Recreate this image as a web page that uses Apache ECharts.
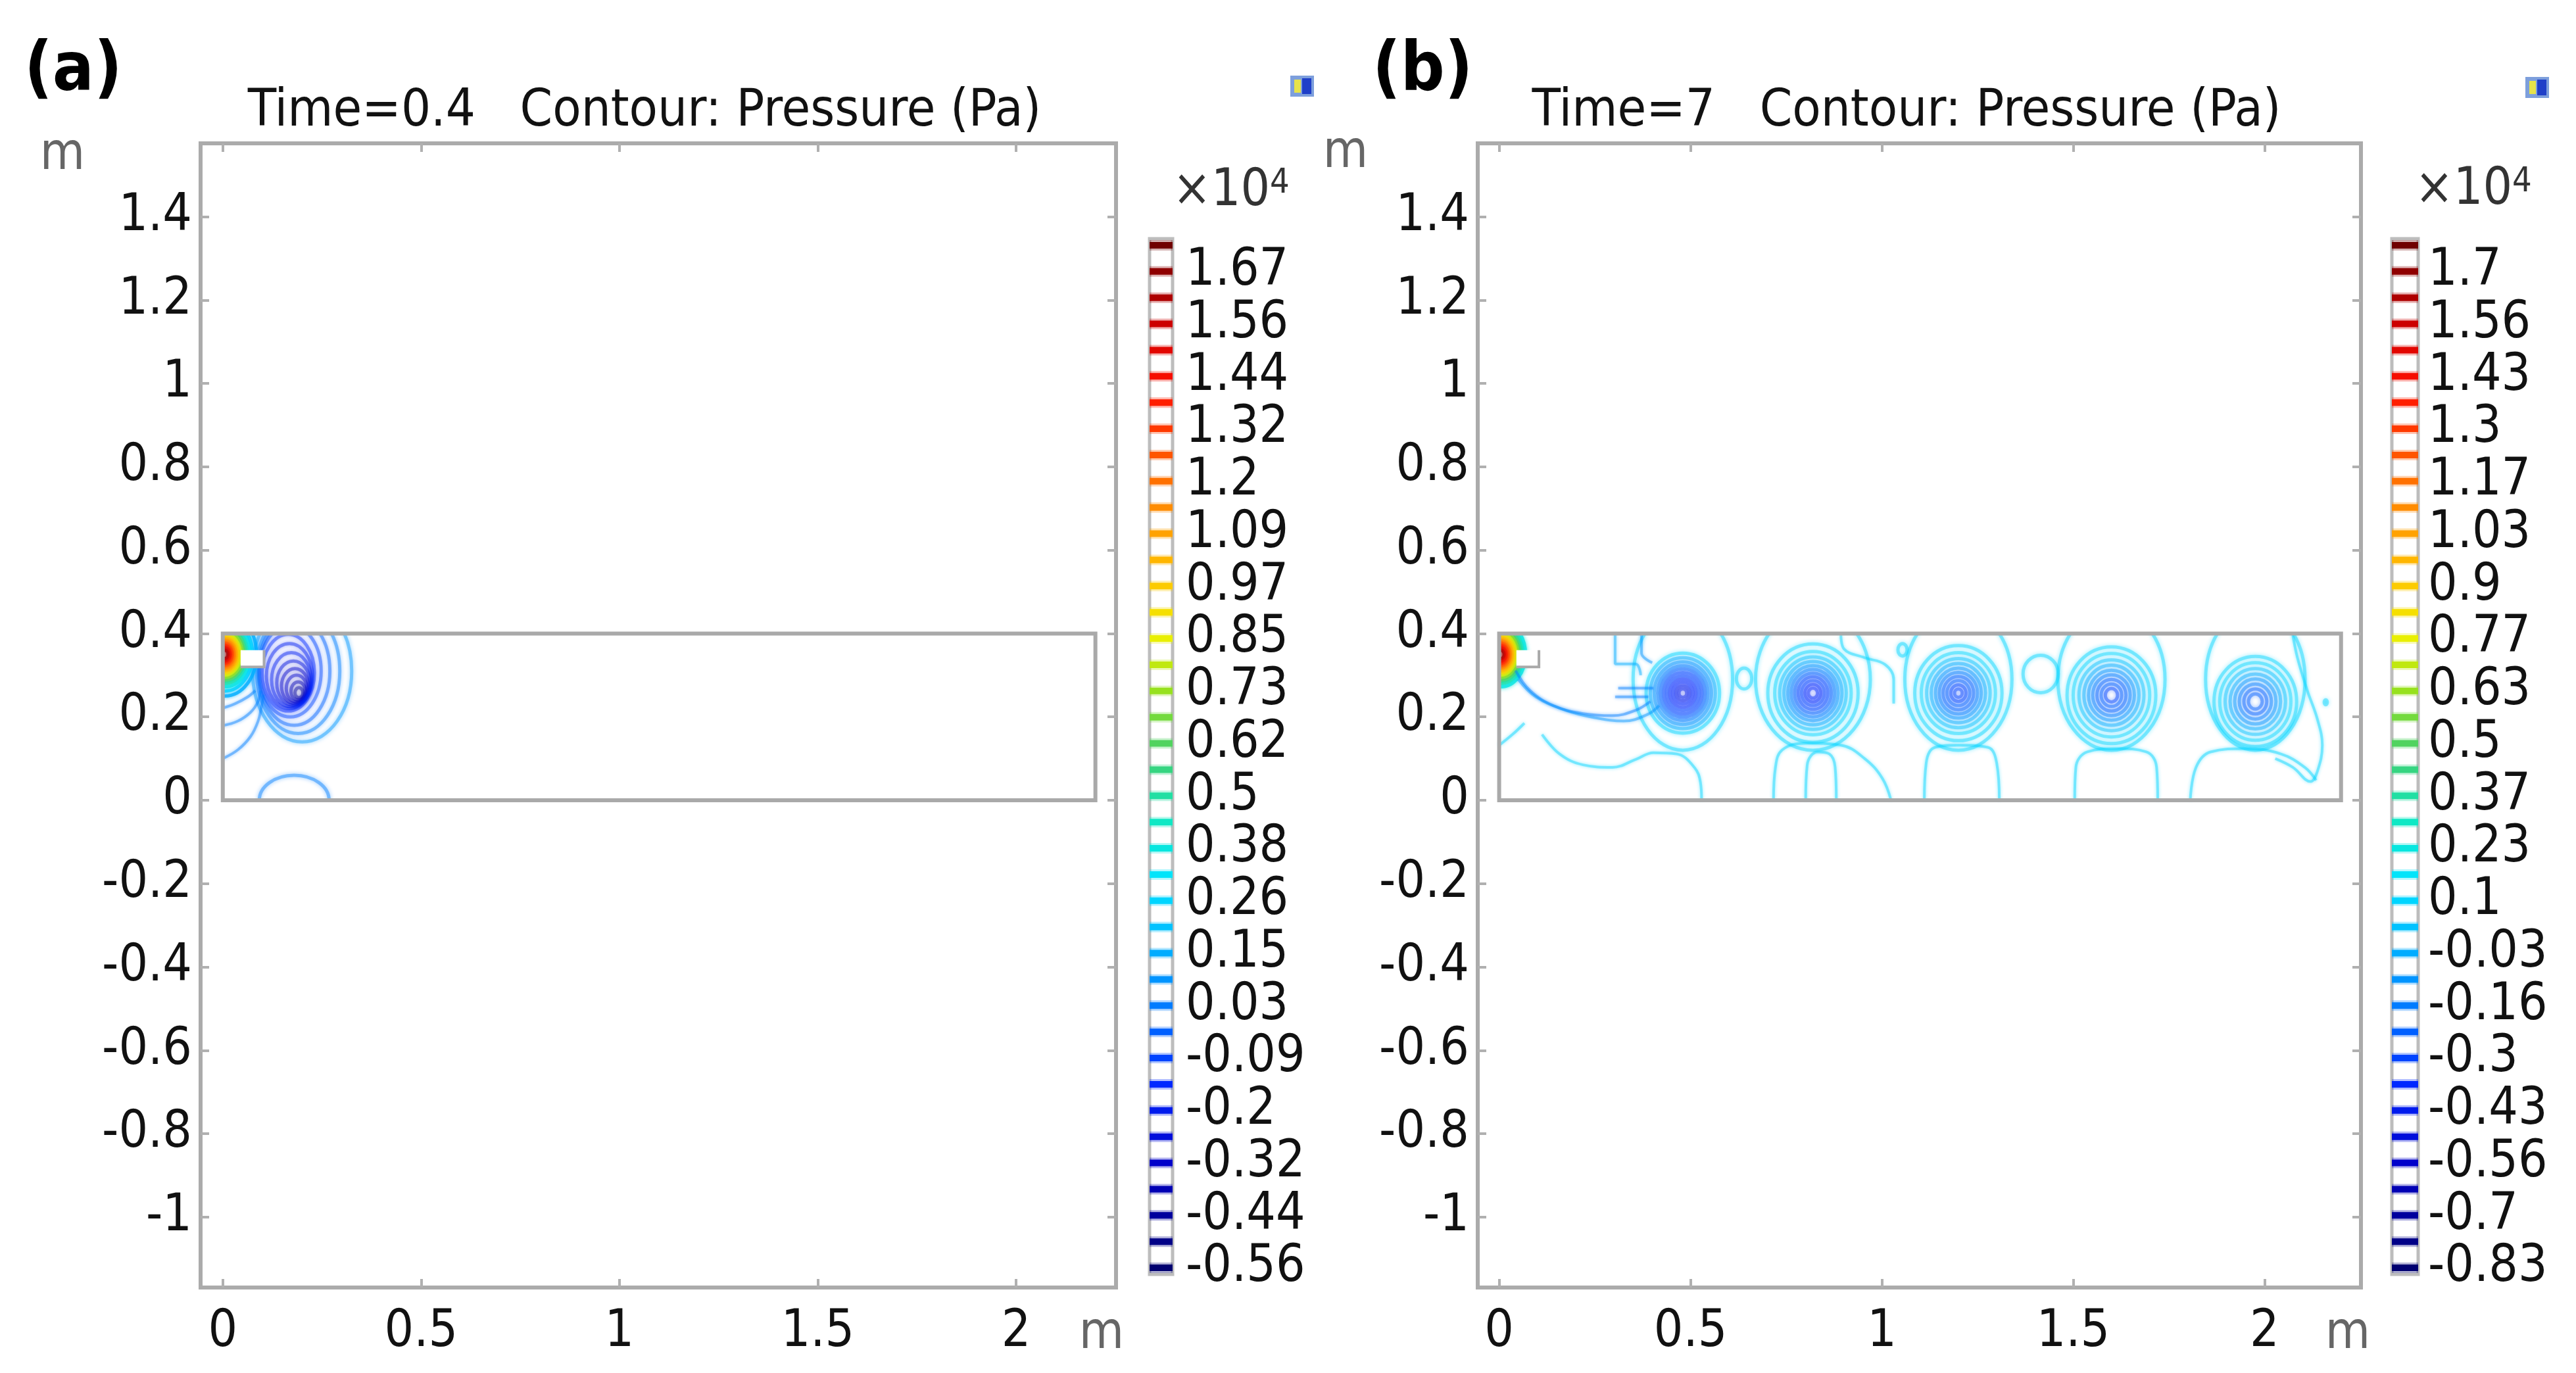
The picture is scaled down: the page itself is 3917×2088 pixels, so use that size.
<!DOCTYPE html>
<html>
<head>
<meta charset="utf-8">
<script src="https://cdn.jsdelivr.net/npm/echarts@6/dist/echarts.min.js"></script>
<style>
html, body { margin: 0; padding: 0; background: #fff; }
#chart { width: 3917px; height: 2088px; }
</style>
</head>
<body>
<div id="chart"></div>
<script>
// axes and geometry
const xTicks = [0, 0.5, 1, 1.5, 2]
const yTicks = [-1, -0.8, -0.6, -0.4, -0.2, 0, 0.2, 0.4, 0.6, 0.8, 1, 1.2, 1.4]
const channelX = [0, 2.2]
const channelY = [0, 0.4]
const inletStep = [[0.045, 0.32], [0.104, 0.32], [0.104, 0.36]]

// colour legend labels (x10^4 Pa), top to bottom
const aColorLabels = [1.67, 1.56, 1.44, 1.32, 1.2, 1.09, 0.97, 0.85, 0.73, 0.62, 0.5, 0.38, 0.26, 0.15, 0.03, -0.09, -0.2, -0.32, -0.44, -0.56]
const bColorLabels = [1.7, 1.56, 1.43, 1.3, 1.17, 1.03, 0.9, 0.77, 0.63, 0.5, 0.37, 0.23, 0.1, -0.03, -0.16, -0.3, -0.43, -0.56, -0.7, -0.83]

// (a) Time=0.4 : vortex rings [centre, radii, level]
const aRingX = [0.192, 0.19, 0.186, 0.182, 0.178, 0.173, 0.168, 0.165, 0.17, 0.18, 0.19, 0.2, 0.18]
const aRingY = [0.258, 0.262, 0.268, 0.274, 0.281, 0.289, 0.298, 0.306, 0.31, 0.31, 0.31, 0.31, 0]
const aRingRX = [0.01, 0.018, 0.026, 0.034, 0.042, 0.05, 0.058, 0.066, 0.078, 0.09, 0.105, 0.125, 0.088]
const aRingRY = [0.012, 0.022, 0.032, 0.042, 0.053, 0.065, 0.078, 0.092, 0.11, 0.13, 0.15, 0.17, 0.06]
const aRingP = [-0.44, -0.38, -0.32, -0.32, -0.26, -0.2, -0.2, -0.15, -0.09, -0.03, 0.03, 0.09, 0.03]
// (a) inlet jet fan
const aFanCenter = [0.005, 0.35]
const aFanRX = [0.008, 0.013, 0.018, 0.023, 0.028, 0.033, 0.038, 0.043, 0.048, 0.053, 0.058, 0.064, 0.07, 0.08]
const aFanRY = [0.01, 0.016, 0.022, 0.028, 0.034, 0.04, 0.046, 0.052, 0.058, 0.064, 0.07, 0.078, 0.088, 0.1]
const aFanP = [1.67, 1.56, 1.44, 1.32, 1.2, 1.09, 0.97, 0.85, 0.73, 0.62, 0.5, 0.38, 0.26, 0.15]
// (a) open contour lines
const aPaths = [
  [[0, 0.221], [0.032, 0.232], [0.063, 0.248], [0.082, 0.263]],
  [[0, 0.179], [0.038, 0.19], [0.07, 0.211], [0.089, 0.237], [0.095, 0.263]],
  [[0, 0.1], [0.038, 0.121], [0.07, 0.153], [0.089, 0.19], [0.098, 0.227], [0.102, 0.253]]
]
const aPathP = [0.03, 0.03, 0.03]

// (b) Time=7 : five vortices
const bVortexX = [0.48, 0.82, 1.2, 1.6, 1.976]
const bVortexY = [0.257, 0.257, 0.257, 0.252, 0.237]
const bVortexR = [
  [0.01, 0.018, 0.026, 0.034, 0.042, 0.05, 0.058, 0.066, 0.075, 0.085, 0.096],
  [0.012, 0.021, 0.03, 0.039, 0.048, 0.057, 0.066, 0.076, 0.087, 0.1, 0.118],
  [0.01, 0.02, 0.03, 0.04, 0.05, 0.06, 0.071, 0.083, 0.097, 0.114],
  [0.016, 0.027, 0.038, 0.049, 0.06, 0.072, 0.085, 0.1, 0.116],
  [0.018, 0.03, 0.042, 0.054, 0.066, 0.079, 0.093, 0.108]
]
const bVortexP = [
  [-0.43, -0.43, -0.37, -0.37, -0.3, -0.3, -0.23, -0.16, -0.1, -0.03, 0.1],
  [-0.37, -0.37, -0.3, -0.3, -0.23, -0.16, -0.1, -0.03, 0.03, 0.1, 0.1],
  [-0.3, -0.3, -0.23, -0.23, -0.16, -0.1, -0.03, 0.03, 0.1, 0.1],
  [-0.3, -0.23, -0.23, -0.16, -0.1, -0.03, 0.03, 0.1, 0.1],
  [-0.23, -0.23, -0.16, -0.1, -0.03, 0.03, 0.1, 0.1]
]
const bOuterY = 0.29
const bOuterRX = [0.13, 0.15, 0.14, 0.14, 0.13]
const bOuterRY = [0.17, 0.17, 0.17, 0.17, 0.17]
const bOuterP = [0.1, 0.1, 0.1, 0.1, 0.1]
// (b) small closed cells
const bCellX = [1.415, 1.054, 0.64, 2.16]
const bCellY = [0.303, 0.361, 0.292, 0.235]
const bCellRX = [0.046, 0.012, 0.02, 0.004]
const bCellRY = [0.045, 0.015, 0.025, 0.006]
const bCellP = [0.1, 0.1, 0.1, 0.1]
// (b) inlet jet fan
const bFanCenter = [0.005, 0.35]
const bFanRX = [0.008, 0.013, 0.018, 0.023, 0.028, 0.033, 0.038, 0.043, 0.048, 0.053, 0.058, 0.064]
const bFanRY = [0.01, 0.016, 0.022, 0.028, 0.034, 0.04, 0.046, 0.052, 0.058, 0.064, 0.07, 0.078]
const bFanP = [1.7, 1.56, 1.43, 1.3, 1.17, 1.03, 0.9, 0.77, 0.63, 0.5, 0.37, 0.23]
// (b) open contour lines
const bPaths = [
  [[0.043, 0.311], [0.081, 0.263], [0.142, 0.227], [0.219, 0.208], [0.296, 0.203], [0.357, 0.216], [0.395, 0.237]],
  [[0.05, 0.29], [0.096, 0.248], [0.173, 0.216], [0.25, 0.198], [0.326, 0.19], [0.388, 0.206], [0.418, 0.227]],
  [[0.311, 0.269], [0.403, 0.269]],
  [[0.303, 0.248], [0.39, 0.248]],
  [[0.303, 0.4], [0.303, 0.327], [0.357, 0.327], [0.37, 0.3]],
  [[0.372, 0.4], [0.372, 0.353], [0.4, 0.33]],
  [[0, 0.132], [0.035, 0.158], [0.066, 0.185]],
  [[0.112, 0.158], [0.158, 0.111], [0.219, 0.085], [0.296, 0.079], [0.357, 0.098], [0.403, 0.114], [0.464, 0.111], [0.51, 0.079], [0.526, 0.043], [0.529, 0]],
  [[0.893, 0.397], [0.901, 0.363], [0.955, 0.342], [1.008, 0.326], [1.031, 0.29], [1.031, 0.232]],
  [[2.074, 0.397], [2.086, 0.342], [2.112, 0.263], [2.138, 0.195], [2.151, 0.132], [2.138, 0.069], [2.12, 0.045], [2.074, 0.079], [2.028, 0.1]],
  [[0.717, 0], [0.722, 0.079], [0.74, 0.121], [0.801, 0.137], [0.893, 0.132], [0.955, 0.1], [1.001, 0.053], [1.024, 0]],
  [[0.801, 0], [0.805, 0.085], [0.832, 0.116], [0.863, 0.111], [0.878, 0.079], [0.881, 0]],
  [[1.111, 0], [1.116, 0.09], [1.139, 0.127], [1.2, 0.132], [1.277, 0.127], [1.3, 0.09], [1.307, 0]],
  [[1.504, 0], [1.507, 0.079], [1.537, 0.116], [1.614, 0.124], [1.691, 0.116], [1.718, 0.079], [1.721, 0]],
  [[1.806, 0], [1.821, 0.079], [1.859, 0.116], [1.951, 0.124], [2.043, 0.111], [2.105, 0.079], [2.135, 0.048]]
]
const bPathP = [-0.16, -0.1, -0.16, -0.16, -0.03, -0.1, 0.1, 0.1, 0.1, 0.1, 0.1, 0.1, 0.1, 0.1, 0.1]

const FONT = "'DejaVu Sans Condensed', 'DejaVu Sans', sans-serif"

// rainbow colour table (COMSOL like)
const palette = [
  [0, '#000070'], [0.1, '#0000c8'], [0.18, '#0028ff'], [0.26, '#0080ff'], [0.33, '#00c0ff'],
  [0.38, '#00e4ff'], [0.44, '#10e8c0'], [0.5, '#40d070'], [0.56, '#90e020'], [0.62, '#f0f000'],
  [0.68, '#ffc000'], [0.74, '#ff9000'], [0.8, '#ff5000'], [0.86, '#ff1000'], [0.92, '#d00000'], [1, '#700000']
]
const hexRgb = h => [1, 3, 5].map(i => parseInt(h.slice(i, i + 2), 16))
const colorAt = t => {
  t = Math.max(0, Math.min(1, t))
  for (let i = 1; i < palette.length; i++) {
    if (t <= palette[i][0]) {
      const [t0, c0] = palette[i - 1]
      const [t1, c1] = palette[i]
      const f = (t - t0) / (t1 - t0)
      const a = hexRgb(c0), b = hexRgb(c1)
      return 'rgb(' + a.map((v, k) => Math.round(v + (b[k] - v) * f)).join(',') + ')'
    }
  }
  return palette[palette.length - 1][1]
}
const rangeOf = labels => [labels[labels.length - 1], labels[0] + (labels[0] - labels[1]) / 2]
const aRange = rangeOf(aColorLabels)
const bRange = rangeOf(bColorLabels)

// build ring data
const aRings = aRingX.map((x, i) => [x, aRingY[i], aRingRX[i], aRingRY[i], aRingP[i]])
const aFan = aFanRX.map((r, i) => [aFanCenter[0], aFanCenter[1], r, aFanRY[i], aFanP[i]])
const bRings = []
bVortexX.forEach((x, k) => {
  bVortexR[k].forEach((r, i) => bRings.push([x, bVortexY[k], r, r, bVortexP[k][i]]))
  bRings.push([x, bOuterY, bOuterRX[k], bOuterRY[k], bOuterP[k]])
})
bCellX.forEach((x, i) => bRings.push([x, bCellY[i], bCellRX[i], bCellRY[i], bCellP[i]]))
const bFan = bFanRX.map((r, i) => [bFanCenter[0], bFanCenter[1], r, bFanRY[i], bFanP[i]])

const ringSeries = (ax, data, range, width, alpha) => ({
  type: 'custom',
  xAxisIndex: ax,
  yAxisIndex: ax,
  silent: true,
  z: 3,
  data: data,
  renderItem: (params, api) => {
    const c = api.coord([api.value(0), api.value(1)])
    const s = api.size([api.value(2), api.value(3)])
    const p0 = api.coord([channelX[0], channelY[0]])
    const p1 = api.coord([channelX[1], channelY[1]])
    const col = colorAt((api.value(4) - range[0]) / (range[1] - range[0]))
    return {
      type: 'ellipse',
      shape: { cx: c[0], cy: c[1], rx: s[0], ry: s[1] },
      style: { fill: 'none', stroke: col, lineWidth: width, opacity: alpha, shadowBlur: 6, shadowColor: col },
      clipPath: { type: 'rect', shape: { x: p0[0], y: p1[1], width: p1[0] - p0[0], height: p0[1] - p1[1] } }
    }
  }
})

const pathSeries = (ax, paths, levels, range) => paths.map((pts, k) => {
  const col = colorAt((levels[k] - range[0]) / (range[1] - range[0]))
  return {
    type: 'line',
    xAxisIndex: ax,
    yAxisIndex: ax,
    silent: true,
    z: 3,
    smooth: 0.4,
    showSymbol: false,
    symbol: 'none',
    data: pts,
    lineStyle: { color: col, width: 4, opacity: 0.42, shadowBlur: 5, shadowColor: col }
  }
})

const channelSeries = ax => ({
  type: 'custom',
  xAxisIndex: ax,
  yAxisIndex: ax,
  silent: true,
  z: 5,
  data: [[channelX[0], channelY[0], channelX[1], channelY[1]]],
  renderItem: (params, api) => {
    const p0 = api.coord([api.value(0), api.value(1)])
    const p1 = api.coord([api.value(2), api.value(3)])
    const s = inletStep.map(p => api.coord(p))
    return {
      type: 'group',
      children: [
        { type: 'rect', shape: { x: s[0][0], y: s[2][1], width: s[1][0] - s[0][0], height: s[0][1] - s[2][1] }, style: { fill: '#fff' } },
        { type: 'polyline', shape: { points: s }, style: { fill: 'none', stroke: '#a9a9a9', lineWidth: 4 } },
        { type: 'rect', shape: { x: p0[0], y: p1[1], width: p1[0] - p0[0], height: p0[1] - p1[1] }, style: { fill: 'none', stroke: '#a9a9a9', lineWidth: 6 } }
      ]
    }
  }
})

const levelIdx = Array.from({ length: aColorLabels.length * 2 }, (_, i) => i)
const labelIdx = levelIdx.filter(i => i % 2 === 1)

const colorbarSeries = ax => ({
  type: 'custom',
  xAxisIndex: ax,
  yAxisIndex: ax,
  silent: true,
  data: levelIdx.map(i => [0, i]),
  renderItem: (params, api) => {
    const i = api.value(1)
    const l = api.coord([0, i])
    const r = api.coord([1, i])
    const col = colorAt(1 - i / (levelIdx.length - 1))
    return {
      type: 'group',
      children: [
        { type: 'rect', shape: { x: l[0], y: l[1] - 8, width: r[0] - l[0], height: 16 }, style: { fill: col, opacity: 0.3 } },
        { type: 'rect', shape: { x: l[0], y: l[1] - 5, width: r[0] - l[0], height: 10 }, style: { fill: col } }
      ]
    }
  }
})

const labelStyle = { fontSize: 78, fontFamily: FONT, color: '#111' }
const tickStyle = { show: true, inside: true, length: 13, lineStyle: { color: '#b0b0b0', width: 4 } }
const X_MIN = -0.056, X_MAX = 2.252, Y_MIN = -1.169, Y_MAX = 1.576

const hiddenLine = { show: false, onZero: false }
const plotX = g => [
  {
    gridIndex: g, type: 'value', min: X_MIN, max: X_MAX, position: 'bottom',
    axisLine: hiddenLine, splitLine: { show: false },
    axisTick: Object.assign({ customValues: xTicks }, tickStyle),
    axisLabel: Object.assign({ customValues: xTicks, margin: 30, formatter: v => String(v) }, labelStyle)
  },
  {
    gridIndex: g, type: 'value', min: X_MIN, max: X_MAX, position: 'top',
    axisLine: hiddenLine, splitLine: { show: false },
    axisTick: Object.assign({ customValues: xTicks }, tickStyle),
    axisLabel: { show: false }
  }
]
const plotY = g => [
  {
    gridIndex: g, type: 'value', min: Y_MIN, max: Y_MAX, position: 'left',
    axisLine: hiddenLine, splitLine: { show: false },
    axisTick: Object.assign({ customValues: yTicks }, tickStyle),
    axisLabel: Object.assign({ customValues: yTicks, margin: 13, formatter: v => String(v) }, labelStyle)
  },
  {
    gridIndex: g, type: 'value', min: Y_MIN, max: Y_MAX, position: 'right',
    axisLine: hiddenLine, splitLine: { show: false },
    axisTick: Object.assign({ customValues: yTicks }, tickStyle),
    axisLabel: { show: false }
  }
]
const barX = g => ({ gridIndex: g, type: 'value', min: 0, max: 1, show: false })
const barY = (g, labels, margin) => ({
  gridIndex: g, type: 'value', min: -0.25, max: levelIdx.length - 0.75, inverse: true, position: 'right',
  axisLine: hiddenLine, axisTick: { show: false }, splitLine: { show: false },
  axisLabel: Object.assign({ customValues: labelIdx, margin: margin, align: 'left', formatter: v => String(labels[(v - 1) / 2]) }, labelStyle)
})

const plotGrid = (left, width) => ({
  left: left, top: 218, width: width, height: 1740,
  show: true, borderColor: '#ababab', borderWidth: 6, backgroundColor: '#fff'
})
const barGrid = (left, width) => ({
  left: left, top: 363, width: width, height: 1575,
  show: true, borderColor: '#bdbdbd', borderWidth: 5, backgroundColor: '#fff'
})

const textEl = (x, y, text, extra) => ({
  type: 'text', x: x, y: y, silent: true,
  style: Object.assign({ text: text, fontSize: 78, fontFamily: FONT, fill: '#111', align: 'left', verticalAlign: 'middle' }, extra)
})
const powerEl = (x, y) => ({
  type: 'text', x: x, y: y, silent: true,
  style: {
    text: '{m|×10}{s|4}', align: 'left', verticalAlign: 'middle',
    rich: {
      m: { fontSize: 78, fontFamily: FONT, fill: '#333' },
      s: { fontSize: 52, fontFamily: FONT, fill: '#333', verticalAlign: 'top' }
    }
  }
})
const iconEl = (x, y) => ({
  type: 'group', x: x, y: y, silent: true,
  children: [
    { type: 'rect', shape: { x: 0, y: 0, width: 36, height: 32 }, style: { fill: '#7d9fdc' } },
    { type: 'rect', shape: { x: 6, y: 6, width: 10, height: 20 }, style: { fill: '#e6e24a' } },
    { type: 'rect', shape: { x: 18, y: 4, width: 14, height: 24 }, style: { fill: '#1f3fc8' } }
  ]
})

const chart = echarts.init(document.getElementById('chart'), null, { renderer: 'canvas' })
chart.setOption({
  animation: false,
  backgroundColor: '#fff',
  grid: [plotGrid(305, 1392), plotGrid(2247, 1343), barGrid(1748, 35), barGrid(3637, 40)],
  xAxis: [...plotX(0), ...plotX(1), barX(2), barX(3)],
  yAxis: [...plotY(0), ...plotY(1), barY(2, aColorLabels, 20), barY(3, bColorLabels, 15)],
  series: [
    ringSeries(0, aRings, aRange, 5, 0.42),
    ringSeries(0, aFan, aRange, 5, 0.8),
    ...pathSeries(0, aPaths, aPathP, aRange),
    channelSeries(0),
    ringSeries(2, bRings, bRange, 5, 0.42),
    ringSeries(2, bFan, bRange, 5, 0.8),
    ...pathSeries(2, bPaths, bPathP, bRange),
    channelSeries(2),
    colorbarSeries(4),
    colorbarSeries(5)
  ],
  graphic: [
    textEl(37, 110, '(a)', { fontSize: 104, fontWeight: 'bold', fill: '#000' }),
    textEl(2087, 110, '(b)', { fontSize: 104, fontWeight: 'bold', fill: '#000' }),
    textEl(980, 170, 'Time=0.4   Contour: Pressure (Pa)', { align: 'center', fontSize: 79 }),
    textEl(2899, 170, 'Time=7   Contour: Pressure (Pa)', { align: 'center', fontSize: 79 }),
    textEl(95, 237, 'm', { align: 'center', fill: '#666' }),
    textEl(2046, 234, 'm', { align: 'center', fill: '#666' }),
    textEl(1675, 2030, 'm', { align: 'center', fill: '#666' }),
    textEl(3570, 2030, 'm', { align: 'center', fill: '#666' }),
    powerEl(1783, 292),
    powerEl(3672, 290),
    iconEl(1962, 115),
    iconEl(3840, 117)
  ]
})
</script>
</body>
</html>
